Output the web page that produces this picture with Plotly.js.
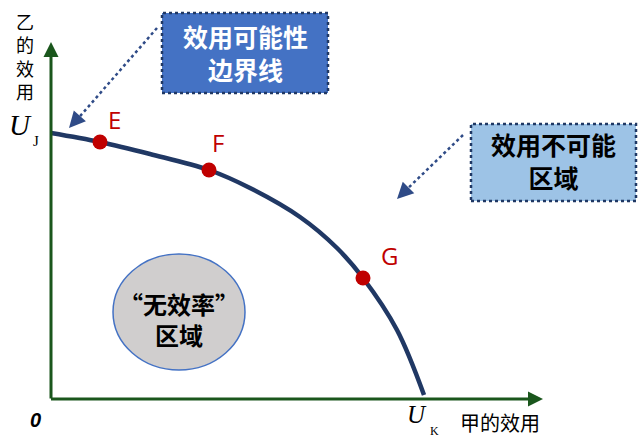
<!DOCTYPE html>
<html>
<head>
<meta charset="utf-8">
<script src="https://cdn.plot.ly/plotly-3.0.1.min.js"></script>
<style>html,body{margin:0;padding:0;background:#fff;}#chart{width:638px;height:448px;}</style>
</head>
<body>
<div id="chart"></div>
<script>
// Utility possibility frontier (甲的效用 on x, 乙的效用 on y)
const frontierX = [0, 49, 99, 158, 199, 249, 286, 312, 346, 373];
const frontierY = [266, 257, 245, 229, 211, 182, 151, 121, 69, 4];
const pointNames = ["E", "F", "G"];
const pointX = [49, 158, 312];
const pointY = [257, 229, 121];

const CJK = '"Noto Sans CJK SC", "Noto Sans", sans-serif';
const navy = '#203864';
const axisGreen = '#1a561c';

const traces = [
  {x: frontierX, y: frontierY, mode: 'lines', line: {color: navy, width: 4.5, shape: 'spline', smoothing: 1}, hoverinfo: 'skip'},
  {x: pointX, y: pointY, mode: 'markers', marker: {color: '#c00000', size: 15}, text: pointNames, hoverinfo: 'text'}
];

const shapes = [
  // boxes
  {type: 'rect', xref: 'x', yref: 'y', x0: 111, x1: 277, y0: 306, y1: 386, fillcolor: '#4472c4', line: {color: navy, width: 2.5, dash: 'dot'}, layer: 'below'},
  {type: 'rect', xref: 'x', yref: 'y', x0: 420, x1: 585, y0: 198, y1: 275, fillcolor: '#9dc3e6', line: {color: navy, width: 2.5, dash: 'dot'}, layer: 'below'},
  // ellipse
  {type: 'circle', xref: 'x', yref: 'y', x0: 62, x1: 194, y0: 29, y1: 145, fillcolor: '#d0cece', line: {color: '#4472c4', width: 1.5}, layer: 'below'},
  // dotted pointers
  {type: 'line', xref: 'x', yref: 'y', x0: 106, y0: 371, x1: 24, y1: 277, line: {color: '#2f4b87', width: 2.5, dash: 'dot'}},
  {type: 'line', xref: 'x', yref: 'y', x0: 412, y0: 264, x1: 352, y1: 206, line: {color: '#2f4b87', width: 2.5, dash: 'dot'}}
];

const annotations = [
  // axes
  {x: 0, y: 357, ax: 0, ay: -1, axref: 'x', ayref: 'y', xref: 'x', yref: 'y', showarrow: true, arrowhead: 2, arrowsize: 1, arrowwidth: 3, arrowcolor: axisGreen, text: ''},
  {x: 492, y: 0, ax: -1.5, ay: 0, axref: 'x', ayref: 'y', xref: 'x', yref: 'y', showarrow: true, arrowhead: 2, arrowsize: 1, arrowwidth: 3, arrowcolor: axisGreen, text: ''},
  // pointer heads
  {x: 18, y: 271, ax: 9, ay: -10, xref: 'x', yref: 'y', showarrow: true, arrowhead: 2, arrowsize: 1.3, arrowwidth: 2.5, arrowcolor: '#2f4b87', text: ''},
  {x: 346, y: 200, ax: 9, ay: -9, xref: 'x', yref: 'y', showarrow: true, arrowhead: 2, arrowsize: 1.3, arrowwidth: 2.5, arrowcolor: '#2f4b87', text: ''},
  // box texts
  {x: 194, y: 347, xref: 'x', yref: 'y', showarrow: false, text: '<b>效用可能性<br>边界线</b>', font: {family: CJK, size: 25, color: '#ffffff'}},
  {x: 502, y: 239, xref: 'x', yref: 'y', showarrow: false, text: '<b>效用不可能<br>区域</b>', font: {family: CJK, size: 25, color: '#000000'}},
  {x: 128, y: 80, xref: 'x', yref: 'y', showarrow: false, text: '<b>“无效率”<br>区域</b>', font: {family: CJK, size: 24, color: '#000000'}},
  // point labels
  {x: 63, y: 280, xref: 'x', yref: 'y', showarrow: false, text: 'E', font: {family: '"Open Sans", sans-serif', size: 24, color: '#c00000'}},
  {x: 167, y: 257, xref: 'x', yref: 'y', showarrow: false, text: 'F', font: {family: '"Open Sans", sans-serif', size: 24, color: '#c00000'}},
  {x: 338, y: 144, xref: 'x', yref: 'y', showarrow: false, text: 'G', font: {family: '"Open Sans", sans-serif', size: 24, color: '#c00000'}},
  // axis labels
  {x: -31, y: 274, xref: 'x', yref: 'y', showarrow: false, text: '<i>U</i>', font: {family: '"Liberation Serif", serif', size: 29, color: '#000'}},
  {x: -15, y: 258, xref: 'x', yref: 'y', showarrow: false, text: 'J', font: {family: '"Liberation Serif", serif', size: 15, color: '#000'}},
  {x: 366, y: -15, xref: 'x', yref: 'y', showarrow: false, text: '<i>U</i>', font: {family: '"Liberation Serif", serif', size: 25, color: '#000'}},
  {x: 383, y: -32, xref: 'x', yref: 'y', showarrow: false, text: 'K', font: {family: '"Liberation Serif", serif', size: 12, color: '#000'}},
  {x: 449, y: -23, xref: 'x', yref: 'y', showarrow: false, text: '甲的效用', font: {family: CJK, size: 20, color: '#000'}},
  {x: -16, y: -21, xref: 'x', yref: 'y', showarrow: false, text: '<b><i>0</i></b>', font: {family: '"Liberation Sans", sans-serif', size: 20, color: '#000'}},
  {x: -26, y: 343, xref: 'x', yref: 'y', showarrow: false, text: '乙<br>的<br>效<br>用', font: {family: CJK, size: 18, color: '#000'}}
];

const layout = {
  width: 638, height: 448,
  margin: {l: 0, r: 0, t: 0, b: 0},
  paper_bgcolor: '#ffffff', plot_bgcolor: '#ffffff',
  showlegend: false,
  xaxis: {range: [-51, 587], visible: false, fixedrange: true},
  yaxis: {range: [-49, 399], visible: false, fixedrange: true},
  shapes: shapes,
  annotations: annotations
};

Plotly.newPlot('chart', traces, layout, {staticPlot: true, displayModeBar: false});
</script>
</body>
</html>
